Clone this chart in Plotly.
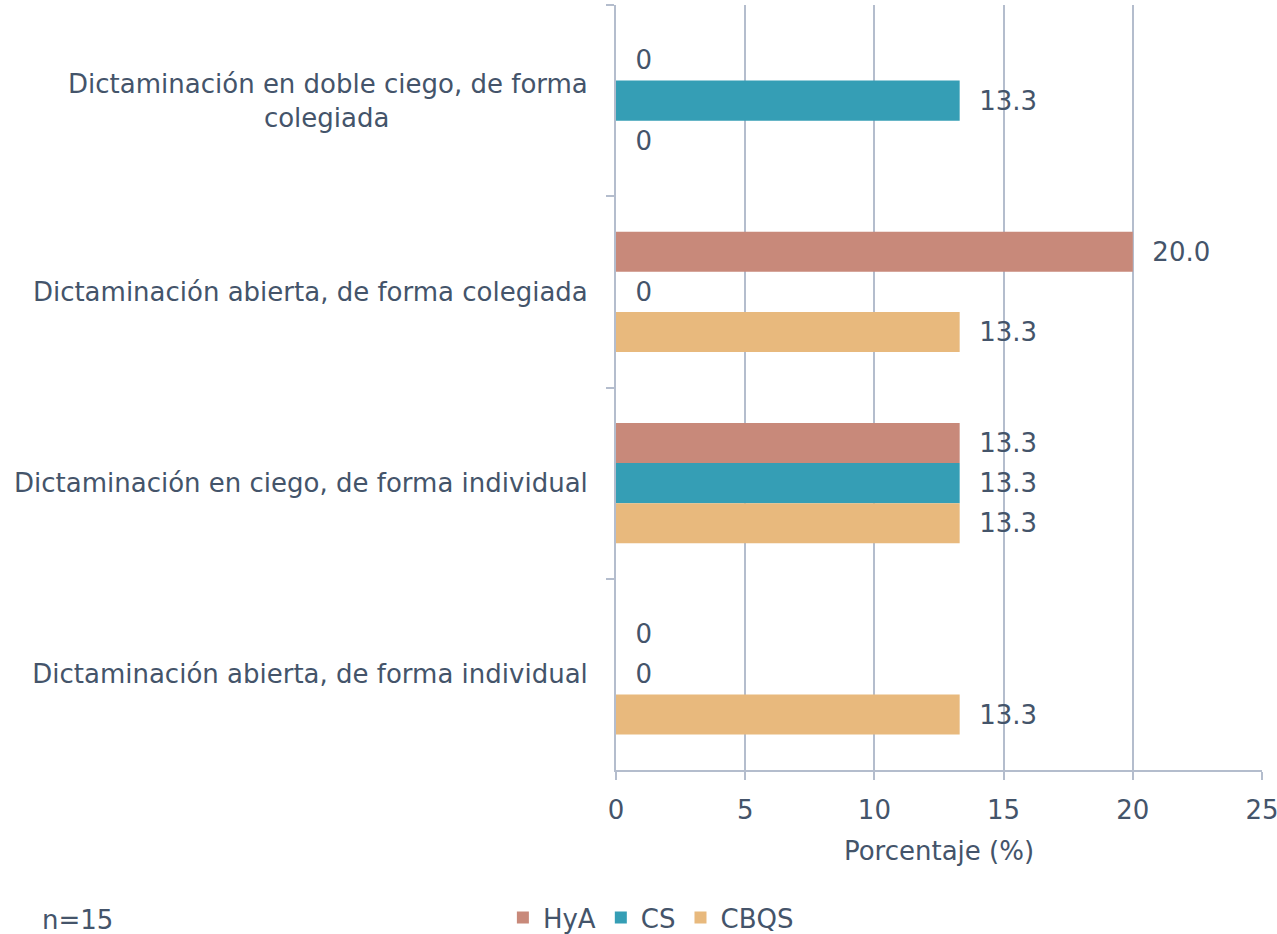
import plotly.graph_objects as go

NB = "\u00a0"
categories = [
    "Dictaminación en doble ciego, de forma<br>colegiada" + NB * 24,
    "Dictaminación abierta, de forma colegiada",
    "Dictaminación en ciego, de forma individual",
    "Dictaminación abierta, de forma individual",
]
series_names = ["HyA", "CS", "CBQS"]
hya = [0, 20.0, 13.3, 0]
cs = [13.3, 0, 13.3, 0]
cbqs = [0, 13.3, 13.3, 13.3]
x_ticks = [0, 5, 10, 15, 20, 25]

colors = ["#C8897A", "#359EB5", "#E8B97D"]
txt_color = "#44546A"
grid_color = "#B4BDCD"
FONT = "DejaVu Sans"
FS = 26

def labels(vals):
    return [NB * 2 + (f"{v:.1f}" if v else "0") for v in vals]

fig = go.Figure()
for name, vals, col in zip(series_names, [hya, cs, cbqs], colors):
    fig.add_trace(go.Bar(
        y=categories, x=vals, name=name, orientation="h",
        marker=dict(color=col, line=dict(width=0)),
        text=labels(vals), textposition="outside", cliponaxis=False,
        textfont=dict(family=FONT, size=FS, color=txt_color),
    ))

fig.update_layout(
    width=1290, height=934,
    margin=dict(l=616, r=28, t=5, b=164, autoexpand=False),
    barmode="group", bargap=0.37, bargroupgap=0,
    plot_bgcolor="white", paper_bgcolor="white",
    font=dict(family=FONT, size=FS, color=txt_color),
    showlegend=True,
    legend=dict(orientation="h", x=0.054, xanchor="center", y=-0.193, yanchor="middle",
                font=dict(family=FONT, size=FS, color=txt_color), traceorder="normal",
                itemwidth=30),
    xaxis=dict(range=[0, 25], tickvals=x_ticks, showgrid=True, gridcolor=grid_color, gridwidth=2,
               showline=True, linecolor=grid_color, linewidth=2,
               ticks="outside", ticklen=8, tickcolor=grid_color, tickwidth=2,
               zeroline=False, ticklabelstandoff=8, ticklabeloverflow="allow",
               title=dict(text="Porcentaje (%)", font=dict(family=FONT, size=FS, color=txt_color), standoff=18),
               tickfont=dict(family=FONT, size=FS, color=txt_color)),
    yaxis=dict(autorange="reversed", showline=True, linecolor=grid_color, linewidth=2,
               ticks="outside", ticklen=8, tickcolor=grid_color, tickwidth=2,
               tickson="boundaries", showgrid=False, ticklabelstandoff=21,
               tickfont=dict(family=FONT, size=FS, color=txt_color)),
    annotations=[dict(text="n=15", xref="paper", yref="paper", x=-0.892, y=-0.196,
                      xanchor="left", yanchor="middle", showarrow=False,
                      font=dict(family=FONT, size=FS, color=txt_color))],
)

fig.write_html(
    "out.html",
    config={"displayModeBar": False},
    post_script="document.body.style.margin='0';document.body.style.overflow='hidden';",
)
